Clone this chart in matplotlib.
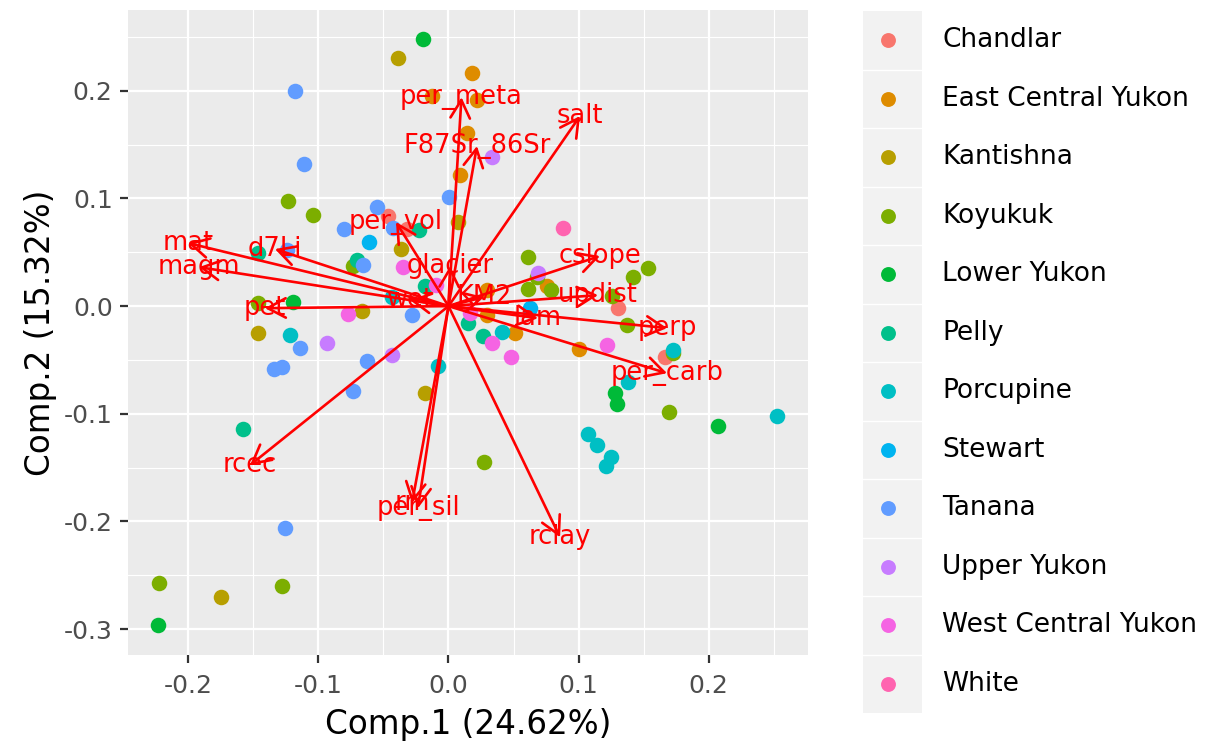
import matplotlib
matplotlib.use("Agg")
import matplotlib.pyplot as plt
from matplotlib.ticker import MultipleLocator, FuncFormatter

plt.rcParams['font.family'] = ['DejaVu Sans']

# PCA scores per basin group (Comp.1, Comp.2)
groups = ["Chandlar", "East Central Yukon", "Kantishna", "Koyukuk", "Lower Yukon",
          "Pelly", "Porcupine", "Stewart", "Tanana", "Upper Yukon",
          "West Central Yukon", "White"]
colors = ["#F8766D", "#DE8C00", "#B79F00", "#7CAE00", "#00BA38", "#00C08B",
          "#00BFC4", "#00B4F0", "#619CFF", "#C77CFF", "#F564E3", "#FF64B0"]

chandlar_x = [-0.0465, -0.0319, 0.1304, 0.1665]
chandlar_y = [0.0836, 0.0716, -0.0019, -0.0474]
ecy_x = [0.0181, -0.0127, 0.0219, 0.0142, 0.0088, 0.0296, 0.0760, 0.0296, 0.0512, 0.1004]
ecy_y = [0.2165, 0.1952, 0.1914, 0.1608, 0.1217, 0.0149, 0.0186, -0.0084, -0.0251, -0.0400]
kantishna_x = [-0.0388, 0.0073, -0.0365, -0.0665, -0.1465, -0.0181, -0.1750]
kantishna_y = [0.2305, 0.0781, 0.0530, -0.0046, -0.0251, -0.0809, -0.2704]
koyukuk_x = [-0.1235, -0.1042, -0.0735, -0.0165, 0.0612, 0.0681, 0.0612, 0.0788, 0.1419,
             0.1535, 0.1258, 0.1373, -0.1465, 0.1727, 0.1696, 0.0273, -0.2227, -0.1281]
koyukuk_y = [0.0976, 0.0846, 0.0372, 0.0177, 0.0455, 0.0270, 0.0158, 0.0149, 0.0270,
             0.0353, 0.0093, -0.0177, 0.0028, -0.0437, -0.0985, -0.1450, -0.2574, -0.2602]
lower_x = [-0.0196, -0.1196, 0.1281, 0.1296, 0.2073, -0.2235]
lower_y = [0.2481, 0.0037, -0.0809, -0.0911, -0.1115, -0.2965]
pelly_x = [-0.0227, -0.1465, -0.0704, -0.0181, 0.0150, 0.0265, -0.1581]
pelly_y = [0.0706, 0.0493, 0.0428, 0.0186, -0.0158, -0.0279, -0.1143]
porcupine_x = [-0.0435, -0.1219, -0.0081, 0.0412, 0.1727, 0.1381, 0.2527, 0.1073,
               0.1142, 0.1250, 0.1212]
porcupine_y = [0.0084, -0.0270, -0.0558, -0.0242, -0.0409, -0.0706, -0.1022, -0.1190,
               -0.1292, -0.1403, -0.1487]
stewart_x = [-0.0612, 0.0627]
stewart_y = [0.0595, -0.0019]
tanana_x = [-0.1181, -0.1112, 0.0004, -0.0550, -0.0804, -0.0427, -0.1242, -0.0658,
            -0.0281, -0.1142, -0.1342, -0.1281, -0.0627, -0.0735, -0.1258]
tanana_y = [0.1998, 0.1320, 0.1013, 0.0920, 0.0716, 0.0725, 0.0520, 0.0381,
            -0.0084, -0.0390, -0.0586, -0.0567, -0.0511, -0.0790, -0.2063]
upper_x = [0.0335, 0.0688, -0.0935, -0.0435]
upper_y = [0.1385, 0.0307, -0.0344, -0.0455]
wcy_x = [-0.0350, -0.0096, -0.0773, 0.0165, 0.0335, 0.0481, 0.1219]
wcy_y = [0.0362, 0.0195, -0.0074, -0.0065, -0.0344, -0.0474, -0.0362]
white_x = [0.0881]
white_y = [0.0725]

scores_x = [chandlar_x, ecy_x, kantishna_x, koyukuk_x, lower_x, pelly_x,
            porcupine_x, stewart_x, tanana_x, upper_x, wcy_x, white_x]
scores_y = [chandlar_y, ecy_y, kantishna_y, koyukuk_y, lower_y, pelly_y,
            porcupine_y, stewart_y, tanana_y, upper_y, wcy_y, white_y]

# loadings (arrow tips) and their labels
load_names = ["per_meta", "F87Sr_86Sr", "salt", "per_vol", "mat", "magm", "d7Li",
              "pet", "glacier", "cslope", "updist", "perp", "per_carb", "lam",
              "rclay", "rcec", "per_sil", "rm", "wet", "KM2"]
load_x = [0.0100, 0.0219, 0.1012, -0.0404, -0.2004, -0.1919, -0.1335,
          -0.1412, 0.0012, 0.1165, 0.1150, 0.1681, 0.1681, 0.0688,
          0.0858, -0.1527, -0.0235, -0.0281, -0.0296, 0.0273]
load_y = [0.1940, 0.1487, 0.1766, 0.0781, 0.0586, 0.0362, 0.0530,
          -0.0019, 0.0372, 0.0465, 0.0102, -0.0204, -0.0623, -0.0112,
          -0.2147, -0.1478, -0.1877, -0.1831, 0.0056, 0.0084]

fig = plt.figure(figsize=(12.12, 7.42), dpi=100)
ax = fig.add_axes([128 / 1212, 1 - 655 / 742, 680 / 1212, 645 / 742])
ax.set_facecolor("#EBEBEB")

for xs, ys, c in zip(scores_x, scores_y, colors):
    ax.scatter(xs, ys, s=125, color=c, linewidths=0, zorder=3)

for name, lx, ly in zip(load_names, load_x, load_y):
    ax.annotate("", xy=(lx, ly), xytext=(0, 0),
                arrowprops=dict(arrowstyle="->,head_length=13,head_width=7",
                                mutation_scale=1, color="#FF0000", lw=1.9,
                                shrinkA=0, shrinkB=0),
                zorder=4)
for name, lx, ly in zip(load_names, load_x, load_y):
    ax.text(lx, ly, name, color="#FF0000", fontsize=18.5, ha="center",
            va="center", zorder=5)

ax.set_xlim(-0.2465, 0.2765)
ax.set_ylim(-0.324, 0.275)
ax.xaxis.set_major_locator(MultipleLocator(0.1))
ax.xaxis.set_minor_locator(MultipleLocator(0.05))
ax.yaxis.set_major_locator(MultipleLocator(0.1))
ax.yaxis.set_minor_locator(MultipleLocator(0.05))
fmt = FuncFormatter(lambda v, p: ("%.1f" % (0.0 if abs(v) < 1e-9 else v)))
ax.xaxis.set_major_formatter(fmt)
ax.yaxis.set_major_formatter(fmt)
ax.grid(which="major", color="white", lw=1.6, zorder=0)
ax.grid(which="minor", color="white", lw=0.8, zorder=0)
ax.set_axisbelow(True)
for sp in ax.spines.values():
    sp.set_visible(False)
ax.tick_params(which="major", length=6, width=1.6, color="#333333",
               labelcolor="#4D4D4D", labelsize=18)
ax.tick_params(axis="x", which="major", pad=8)
ax.tick_params(axis="y", which="major", pad=5)
ax.tick_params(which="minor", length=0)
ax.set_xlabel("Comp.1 (24.62%)", fontsize=23.5, labelpad=7)
ax.set_ylabel("Comp.2 (15.32%)", fontsize=23.5, labelpad=5)

# legend: gray key column with coloured dots, labels to the right
lax = fig.add_axes([863 / 1212, 1 - 713 / 742, 59 / 1212, 702 / 742])
lax.set_facecolor("#F2F2F2")
lax.set_xlim(0, 1)
lax.set_ylim(len(groups) - 0.5, -0.5)
for i, (g, c) in enumerate(zip(groups, colors)):
    lax.scatter([0.42], [i], s=115, color=c, linewidths=0)
    lax.text(1.34, i, g, fontsize=19, va="center", ha="left",
             transform=lax.get_yaxis_transform(), clip_on=False)
    if i > 0:
        lax.axhline(i - 0.5, color="white", lw=1)
lax.set_xticks([])
lax.set_yticks([])
for sp in lax.spines.values():
    sp.set_visible(False)

fig.savefig("out.png", dpi=100)
